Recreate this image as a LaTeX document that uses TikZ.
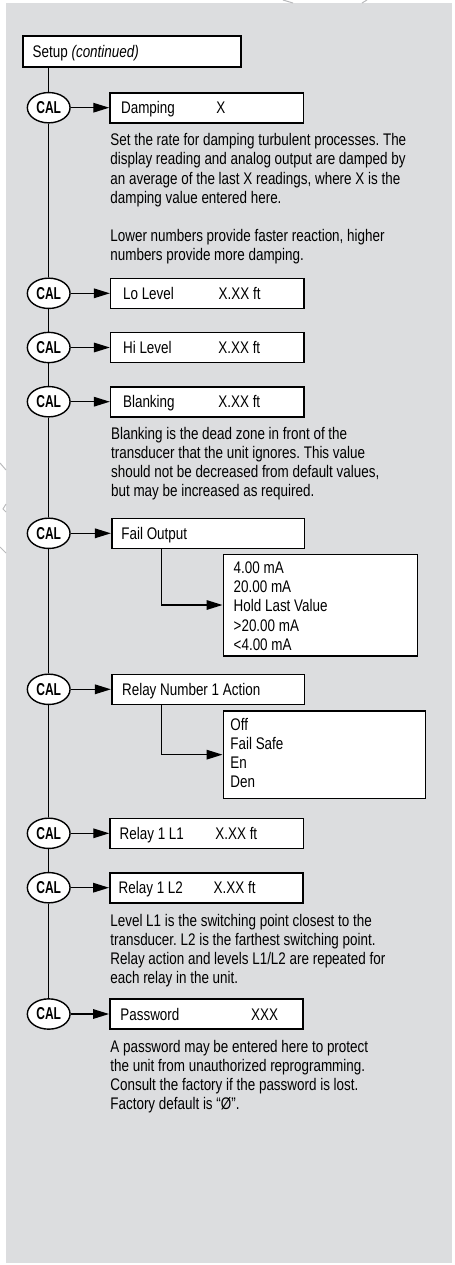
\documentclass[tikz,border=0pt]{standalone}
\usepackage{fontspec}
\usetikzlibrary{shapes.geometric,arrows.meta}
\newfontfamily\bodyfont[FakeStretch=0.80]{Liberation Sans}
\newfontfamily\calfont[FakeStretch=0.70]{Liberation Sans}
\definecolor{panel}{RGB}{220,221,223}
\definecolor{faint}{RGB}{185,186,188}
\newdimen\pxu \pxu=0.5pt
\frenchspacing
\begin{document}
\frenchspacing
\begin{tikzpicture}[x=0.5pt,y=-0.5pt,
  box/.style={draw=black, line width=0.8pt, fill=white, minimum width=193.3\pxu, minimum height=30\pxu, inner sep=0pt},
  cal/.style={ellipse, draw=black, line width=0.7pt, fill=white, minimum width=42.7\pxu, minimum height=30.3\pxu, inner sep=0pt, font=\calfont\bfseries\fontsize{8.6}{9.6}\selectfont},
  lbl/.style={anchor=base west, inner sep=0pt, font=\bodyfont\fontsize{8.4}{9.6}\selectfont},
  optl/.style={anchor=base west, inner sep=0pt, font=\bodyfont\fontsize{8.4}{9.55}\selectfont},
  ln/.style={line width=0.65pt},
  arr/.style={line width=0.65pt, -{Triangle[length=8pt,width=4.8pt]}},
  faintln/.style={draw=faint, line width=0.5pt}]
\useasboundingbox (0,0) rectangle (455,1265);
\fill[panel] (6,3) rectangle (452,1263);
% faint marks in the margin
\draw[faintln] (283,0) -- (293,3);
\draw[faintln] (362,3) -- (367,0);
\draw[faintln] (0,463) -- (6,470);
\draw[faintln] (6,504) -- (3,509) -- (6,512);
\draw[faintln] (0,547) -- (6,553);

% Setup
\node[box, minimum width=217.7\pxu, minimum height=31\pxu] (setup) at (131.85,51.5) {};
\node[lbl] (setupT) at (32.3,57.2) {Setup \textit{(continued)}};

% 1 Damping
\node[cal] (c1) at (48.7,107.7) {CAL};
\node[box] (b1) at (206.7,107.7) {};
\node[lbl] (b1a) at (120.7,113.7) {Damping};
\node[lbl] (b1b) at (216,113.7) {X};
\node[lbl] (p1) at (110,145.7) {\vtop{\hbox{Set the rate for damping turbulent processes. The}\hbox{display reading and analog output are damped by}\hbox{an average of the last X readings, where X is the}\hbox{damping value entered here.}\hbox{}\hbox{Lower numbers provide faster reaction, higher}\hbox{numbers provide more damping.}}};

% 2 Lo Level
\node[cal] (c2) at (48.7,293.3) {CAL};
\node[box] (b2) at (207.3,293.3) {};
\node[lbl] (b2a) at (122.7,299.3) {Lo Level};
\node[lbl] (b2b) at (218.3,299.3) {X.XX ft};

% 3 Hi Level
\node[cal] (c3) at (48.7,347.5) {CAL};
\node[box] (b3) at (207.3,347.5) {};
\node[lbl] (b3a) at (122.7,353.5) {Hi Level};
\node[lbl] (b3b) at (218,353.5) {X.XX ft};

% 4 Blanking
\node[cal] (c4) at (48.7,401.7) {CAL};
\node[box] (b4) at (207.3,401.7) {};
\node[lbl] (b4a) at (122.7,407.7) {Blanking};
\node[lbl] (b4b) at (218,407.7) {X.XX ft};
\node[lbl] (p4) at (110.7,439.3) {\vtop{\hbox{Blanking is the dead zone in front of the}\hbox{transducer that the unit ignores. This value}\hbox{should not be decreased from default values,}\hbox{but may be increased as required.}}};

% 5 Fail Output
\node[cal] (c5) at (48.7,533.3) {CAL};
\node[box, minimum width=192.6\pxu] (b5) at (208,533.3) {};
\node[lbl] (b5a) at (121,539.3) {Fail Output};
\node[box, minimum width=194\pxu, minimum height=101.4\pxu] (o5) at (320.3,605) {};
\node[optl] (o5t) at (233.3,573.7) {\vtop{\hbox{4.00 mA}\hbox{20.00 mA}\hbox{Hold Last Value}\hbox{>20.00 mA}\hbox{<4.00 mA}}};

% 6 Relay Number 1 Action
\node[cal] (c6) at (48.7,689.3) {CAL};
\node[box, minimum width=192.6\pxu] (b6) at (208,689.3) {};
\node[lbl] (b6a) at (121.7,695.3) {Relay Number 1 Action};
\node[box, minimum width=202\pxu, minimum height=87.3\pxu] (o6) at (324.3,754.65) {};
\node[optl] (o6t) at (230,730.3) {\vtop{\hbox{Off}\hbox{Fail Safe}\hbox{En}\hbox{Den}}};

% 7 Relay 1 L1
\node[cal] (c7) at (48.7,833.3) {CAL};
\node[box] (b7) at (206.7,833.3) {};
\node[lbl] (b7a) at (119.3,839.3) {Relay 1 L1};
\node[lbl] (b7b) at (215,839.3) {X.XX ft};

% 8 Relay 1 L2
\node[cal] (c8) at (48.7,887.7) {CAL};
\node[box] (b8) at (206.5,887.7) {};
\node[lbl] (b8a) at (118.3,893.7) {Relay 1 L2};
\node[lbl] (b8b) at (213.3,893.7) {X.XX ft};
\node[lbl] (p8) at (110,926) {\vtop{\hbox{Level L1 is the switching point closest to the}\hbox{transducer. L2 is the farthest switching point.}\hbox{Relay action and levels L1/L2 are repeated for}\hbox{each relay in the unit.}}};

% 9 Password
\node[cal] (c9) at (48.7,1014) {CAL};
\node[box] (b9) at (206.5,1014) {};
\node[lbl] (b9a) at (120,1020) {Password};
\node[lbl] (b9b) at (250.7,1020) {XXX};
\node[lbl] (p9) at (110,1052) {\vtop{\hbox{A password may be entered here to protect}\hbox{the unit from unauthorized reprogramming.}\hbox{Consult the factory if the password is lost.}\hbox{Factory default is “Ø”.}}};

% main line
\draw[ln] (setup.south -| c1) -- (c1.north);
\draw[ln] (c1.south) -- (c2.north);
\draw[ln] (c2.south) -- (c3.north);
\draw[ln] (c3.south) -- (c4.north);
\draw[ln] (c4.south) -- (c5.north);
\draw[ln] (c5.south) -- (c6.north);
\draw[ln] (c6.south) -- (c7.north);
\draw[ln] (c7.south) -- (c8.north);
\draw[ln] (c8.south) -- (c9.north);

% arrows
\draw[arr] (c1) -- (b1);
\draw[arr] (c2) -- (b2);
\draw[arr] (c3) -- (b3);
\draw[arr] (c4) -- (b4);
\draw[arr] (c5) -- (b5);
\draw[arr] (c6) -- (b6);
\draw[arr] (c7) -- (b7);
\draw[arr] (c8) -- (b8);
\draw[arr] (c9) -- (b9);
\draw[arr] ([xshift=25.3pt]b5.south west) |- (o5.west);
\draw[arr] ([xshift=25.3pt]b6.south west) |- (o6.west);
\end{tikzpicture}
\end{document}
